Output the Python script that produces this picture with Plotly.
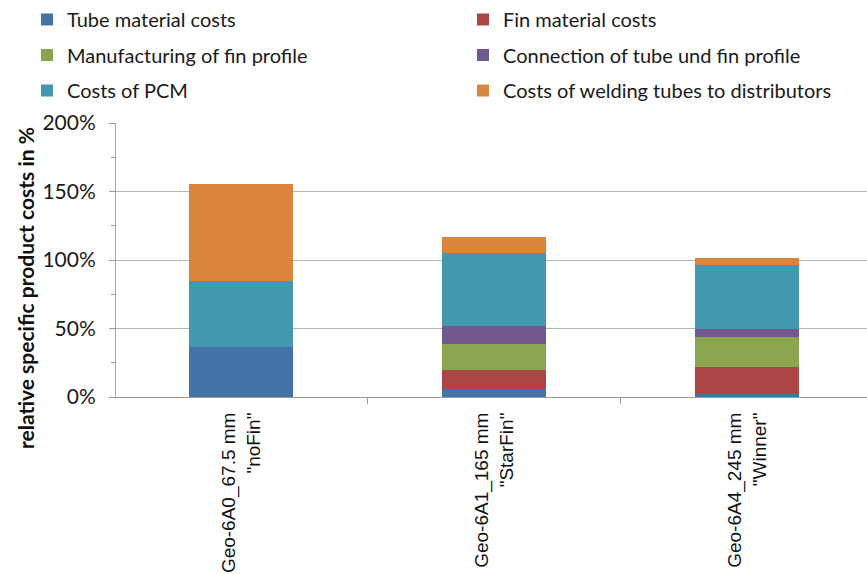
import plotly.graph_objects as go

# Geometries compared
categories = ['Geo-6A0_67.5 mm<br>"noFin"',
              'Geo-6A1_165 mm<br>"StarFin"',
              'Geo-6A4_245 mm<br>"Winner"']

# Cost shares in % of the reference product
tube_material = [36.4, 5.6, 2.0]
fin_material = [0.0, 14.1, 20.1]
fin_manufacturing = [0.0, 19.2, 21.9]
tube_fin_connection = [0.0, 13.1, 5.6]
pcm_costs = [48.1, 53.3, 46.5]
welding_costs = [71.0, 11.3, 5.1]

y_ticks = [0, 50, 100, 150, 200]
y_tick_text = ["0%", "50%", "100%", "150%", "200%"]

# name, values, colour, legend row, legend column
series = [
    ("Tube material costs", tube_material, "#4572A7", "legend", 0),
    ("Fin material costs", fin_material, "#AA4643", "legend", 1),
    ("Manufacturing of fin profile", fin_manufacturing, "#89A54E", "legend2", 0),
    ("Connection of tube und fin profile", tube_fin_connection, "#71588F", "legend2", 1),
    ("Costs of PCM", pcm_costs, "#4198AF", "legend3", 0),
    ("Costs of welding tubes to distributors", welding_costs, "#DB843D", "legend3", 1),
]

W, H = 867, 574
L, R, T, B = 116, 0, 123, 177
plot_w = W - L - R
plot_h = H - T - B


def px_x(p):
    return (p - L) / plot_w


def px_y(p):
    return (H - B - p) / plot_h


fig = go.Figure()
for name, vals, color, leg, col in series:
    fig.add_trace(go.Bar(
        x=categories, y=vals, name=name, legend=leg,
        legendwidth=391 if col == 0 else 340,
        marker=dict(color=color, line=dict(width=0)),
    ))

calibri_like = "Lato, Open Sans, sans-serif"
legend_font = dict(family=calibri_like, size=20, color="#1a1a1a")
legend_common = dict(
    orientation="h", xanchor="left", yanchor="middle",
    x=px_x(27), font=legend_font, bgcolor="rgba(0,0,0,0)",
    entrywidthmode="pixels", itemclick=False,
    traceorder="normal",
)

fig.update_layout(
    width=W, height=H,
    margin=dict(l=L, r=R, t=T, b=B, pad=0),
    plot_bgcolor="white", paper_bgcolor="white",
    barmode="stack", bargap=0.59,
    legend=dict(**legend_common, y=px_y(19)),
    legend2=dict(**legend_common, y=px_y(55)),
    legend3=dict(**legend_common, y=px_y(90.5)),
    xaxis=dict(
        type="category", range=[-0.494, 2.474],
        tickson="boundaries", ticks="outside", ticklen=6,
        tickcolor="#9a9a9a", tickangle=-90, ticklabelstandoff=7,
        showline=True, linecolor="#9a9a9a", linewidth=1,
        showgrid=False,
        tickfont=dict(family="Liberation Sans, Arial, sans-serif", size=19, color="#111111"),
    ),
    yaxis=dict(
        range=[0, 200], tickvals=y_ticks, ticktext=y_tick_text,
        ticks="outside", ticklen=6, tickcolor="#9a9a9a", ticklabelstandoff=9,
        showline=True, linecolor="#a8a8a8", linewidth=1,
        showgrid=True, gridcolor="#b4b4b4", gridwidth=1,
        zeroline=False,
        minor=dict(ticks="outside", ticklen=4, dtick=25, tickcolor="#9a9a9a", showgrid=False),
        tickfont=dict(family=calibri_like, size=21, color="#1a1a1a"),
    ),
    annotations=[dict(
        text="<b>relative specific product costs in %</b>",
        xref="paper", yref="paper", x=px_x(25), y=px_y(288),
        xanchor="center", yanchor="middle", textangle=-90, showarrow=False,
        font=dict(family=calibri_like, size=21, color="#111111"),
    )],
)

fig.write_html("out.html")
